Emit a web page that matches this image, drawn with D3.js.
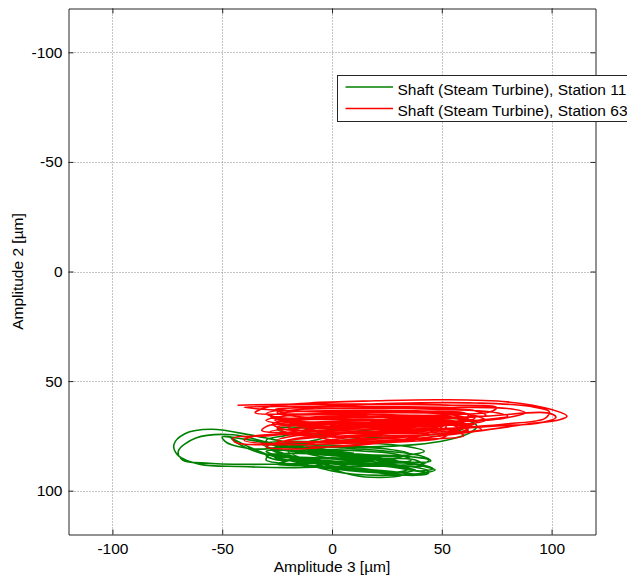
<!DOCTYPE html>
<html><head><meta charset="utf-8">
<script src="https://cdnjs.cloudflare.com/ajax/libs/d3/7.8.5/d3.min.js"></script>
<style>
html,body{margin:0;padding:0;background:#fff;overflow:hidden;}
svg{display:block;font-family:"Liberation Sans",Arial,Helvetica,sans-serif;}
</style></head>
<body>
<svg id="chart" width="627" height="576"></svg>
<script>
// ---- data (x = Amplitude 3, y = Amplitude 2, µm) ----
const seriesNames = ["Shaft (Steam Turbine), Station 11", "Shaft (Steam Turbine), Station 63"];
const seriesColors = ["#008000", "#ff0000"];
const xTicks = [-100, -50, 0, 50, 100];
const yTicks = [-100, -50, 0, 50, 100];
const xDomain = [-120, 120];
const yDomain = [-120, 120];
const xLabel = "Amplitude 3 [µm]";
const yLabel = "Amplitude 2 [µm]";

const greenOrbit = [
 [10,83],[-10,80],[-35,75],[-55,72],[-67,74],[-72,79],[-70,84],[-60,88],[-42,89],[-20,89.5],[5,89],[28,88.5],[42,87.5],[44,86],[36,84.5],[15,83.5],[-5,82],
 [-25,79],[-45,74.5],[-62,76],[-70,82],[-68,86],[-56,87.5],[-36,88],[-12,87.5],[12,87],[30,87],[42,89],[47,90.5],[42,92],[25,93],[10,92.5],[0,91],
 [-12,88],[-28,84],[-38,80],[-46,76],[-42,79],[-32,83],[-15,85.5],[5,87],[25,89],[38,91],[44,92],[38,93],[22,92],[8,90],
 [-8,87],[-22,83],[-30,80],[-24,78.5],[-5,79],[18,80],[38,79],[52,77],[63,73.5],[66,70.5],[60,67.5],[45,67.5],[28,69],[10,71],[-8,73],[-22,75],[-30,77],
 [-26,79.5],[-10,81],[8,83],[22,85],[30,86.5],[25,88],[12,87],[-2,85],[-15,82.5],[-28,80.5],[-32,78.5],[-20,77.5],[0,78],[20,78.5],[35,80],
 [42,82],[32,84],[15,84],[0,83],[-18,81.5],[-30,82],[-25,84],[-8,85],[10,86],[28,88],[35,90],[30,91.5],[18,90.5],[5,88.5],
 [-10,86.5],[-25,86],[-30,84],[-15,83],[5,84.5],[20,87],[32,89.5],[40,91],[46,90],[40,88],[28,87],[12,85],[-5,82],[-18,79.5],
 [-10,78],[5,77],[15,76],[25,75.5],[45,74.5],[58,72.5],[62,70],[52,69],[35,70.5],[15,72.5],[0,74],[-15,74.5],[-25,72],[-20,71],[-8,72.5],[-2,75],
 [-8,77],[-22,80],[-35,81],[-48,78],[-50,75.5],[-40,76.5],[-25,79],[-5,81],[15,82],[30,83.5],[36,86],[28,87.5],[15,86.5],[0,85.5],[-15,85],[-22,87],[-10,89],[10,90.5],[25,92],[32,93],[22,94],[10,93],
 [-20,82],[0,83.5],[20,85],[38,86],[42,88.5],[30,89],[10,88],[-10,86],[-28,83.5],[-30,86],[-15,88],[5,89.5],[25,91],[40,92.5],[44,91],[32,88.5],[15,87.5],[-5,86],[-20,84],[-28,81],
 [-15,79.5],[5,80.5],[25,82],[40,84],[45,86.5],[35,87],[20,85.5],[0,84],[-20,83],[-26,85],[-12,87],[8,88],[28,89],[38,90.5],[30,92],[15,91.5],[0,90],[-15,88.5],[-25,88],[-18,86],[0,85],[18,86],[30,85],[35,83],[25,81],[5,80],[-15,80.5]
];

const redOrbit = [
 [-43,61],[-15,60.5],[20,60.5],[55,61],[75,62],[72,64],[50,65.5],[20,66.5],[-10,67.5],[-27,69.5],[-22,72],[0,72.5],[30,71.5],[55,69.5],[62,67],[50,65],[20,64],[-10,64],[-30,63],
 [-40,62],[-20,61.5],[15,61.5],[50,62],[80,62.5],[88,64.5],[78,67],[50,69],[20,71],[-10,73],[-30,75],[-45,76],[-44,78],[-25,79],[5,78.5],[35,76.5],[65,73],[90,69.5],[104,67.5],[107,66],[100,63],[80,59.5],[50,58.5],[20,59],[-10,60],[-30,62],
 [-35,64.5],[-15,65],[15,64.5],[45,64.5],[62,65.5],[60,68],[40,70],[15,71],[-5,71],[-12,72.5],[-8,75],[-1,73.5],[-4,70.5],[-15,69.5],[-26,68],[-10,66.5],[20,66],[50,66.5],[66,68.5],[60,71],[40,73],[15,74.5],[-10,76],[-25,78],[-30,80],[-18,81],[5,79.5],[35,77],[55,74],
 [68,72],[60,70],[35,69],[10,69],[-8,69.5],[-20,71],[-10,73],[15,73],[45,72],[80,69.5],[97,67],[99,64],[90,61.5],[65,60],[35,60],[5,61],[-20,62.5],[-30,65],
 [-20,67],[5,67.5],[35,67.5],[56,68.5],[48,71],[25,72.5],[0,74.5],[-15,76],[-22,77.5],[-5,77.5],[20,76.5],[45,74.5],[58,72],[52,69],[30,67],[5,65.5],[-15,65.5],[-25,66.5],
 [-15,68.5],[10,68],[40,67],[70,66],[98,64.5],[102,66.5],[95,69],[75,70.5],[45,72.5],[15,75],[-5,77.5],[-12,79.5],[0,80],[20,78.5],[40,75],[50,71],[45,68.5],[25,68.5],[5,70],[-8,71],
 [-28,70],[-32,72.5],[-22,73.5],[-10,72],[0,71.5],[8,72.5],[4,74],[-3,73],[0,70],[15,69],[40,68.5],[58,70],[62,72.5],[50,74],[30,75.5],[5,77],[-15,78],[-30,78.5],[-40,77],[-35,75],[-15,74],[10,73.5],[35,73],[52,71],[48,68],[30,66.5],[10,66],[-12,66.5],[-25,64.5],[-15,63],[10,62.5],[40,62.5],[65,63.5],[70,65.5],[55,67],[30,68],[0,68.5],
 [-20,70],[10,70.5],[40,70],[60,69],[55,66.5],[30,65.5],[0,65],[-22,66],[-30,68],[-18,70],[5,71.5],[30,71],[55,70],[70,68],[62,65],[35,63.5],[5,63.5],[-18,64],[-28,66],[-20,68.5],[0,69],[25,69.5],[50,69],[60,71.5],[45,73.5],[20,74],[-5,74],[-20,75.5],[-25,77],[-10,78],[15,77.5],[40,76],[58,73.5],[63,70.5],[50,67.5],[25,66],[0,66.5],[-20,68],
 [-15,70],[10,71],[35,72],[55,72.5],[60,75],[40,76.5],[15,76],[-8,75],[-22,73],[-25,71],[-10,70],[20,69],[48,68.5],[65,67],[60,64.5],[35,64],[5,64.5],[-20,65],[-26,63],[-10,62],[20,62],[50,63],[72,64],[80,66],[65,68],[40,69.5],[10,70],[-15,71.5],[-28,73],[-20,74.5],[0,75],[25,75],[50,74],[62,72],[55,70],[30,70.5],[5,72],[-12,73.5],[-5,76],[15,78],[35,77.5],[50,76],[55,73]
];

// ---- drawing ----
const svg = d3.select("#chart");
const L = 68.5, R = 595.5, T = 8.5, B = 534.5;
const x = d3.scaleLinear().domain(xDomain).range([L, R]);
const y = d3.scaleLinear().domain(yDomain).range([T, B]);
const fs = "15.5px";
const fmt = d => String(d);

svg.append("defs").append("clipPath").attr("id","clip")
  .append("rect").attr("x",L).attr("y",T).attr("width",R-L).attr("height",B-T);

// grid
const grid = svg.append("g").attr("stroke","#8a8a8a").attr("stroke-width",1).attr("stroke-dasharray","1,2");
grid.selectAll(".gx").data(xTicks).join("line")
  .attr("x1",d=>Math.round(x(d))+0.5).attr("x2",d=>Math.round(x(d))+0.5).attr("y1",T).attr("y2",B);
grid.selectAll(".gy").data(yTicks).join("line")
  .attr("y1",d=>Math.round(y(d))+0.5).attr("y2",d=>Math.round(y(d))+0.5).attr("x1",L).attr("x2",R);

// data lines
const line = d3.line().x(d=>x(d[0])).y(d=>y(d[1])).curve(d3.curveCatmullRom.alpha(0.5));
const plotG = svg.append("g").attr("clip-path","url(#clip)");
[greenOrbit, redOrbit].forEach((arr,i)=>{
  plotG.append("path").attr("d", line(arr)).attr("fill","none")
    .attr("stroke", seriesColors[i]).attr("stroke-width",1.6).attr("stroke-linejoin","round");
});

// axes (ticks pointing inward, box on)
function styleAxis(g){
  g.selectAll(".domain").attr("stroke","#262626");
  g.selectAll(".tick line").attr("stroke","#262626");
  g.selectAll("text").attr("fill","#000").style("font-size",fs).style("font-family","'Liberation Sans',Arial,sans-serif");
}
svg.append("g").attr("transform",`translate(0,${B})`)
  .call(d3.axisBottom(x).tickValues(xTicks).tickSizeInner(-5).tickSizeOuter(0).tickPadding(8).tickFormat(fmt))
  .call(styleAxis);
svg.append("g").attr("transform",`translate(0,${T})`)
  .call(d3.axisTop(x).tickValues(xTicks).tickSizeInner(-5).tickSizeOuter(0).tickFormat(""))
  .call(styleAxis);
svg.append("g").attr("transform",`translate(${L},0)`)
  .call(d3.axisLeft(y).tickValues(yTicks).tickSizeInner(-5).tickSizeOuter(0).tickPadding(6).tickFormat(fmt))
  .call(styleAxis);
svg.append("g").attr("transform",`translate(${R},0)`)
  .call(d3.axisRight(y).tickValues(yTicks).tickSizeInner(-5).tickSizeOuter(0).tickFormat(""))
  .call(styleAxis);

// axis titles
svg.append("text").attr("x",(L+R)/2).attr("y",572).attr("text-anchor","middle")
  .style("font-size",fs).text(xLabel);
svg.append("text").attr("transform",`translate(23,${(T+B)/2}) rotate(-90)`).attr("text-anchor","middle")
  .style("font-size",fs).text(yLabel);

// legend
const lg = svg.append("g");
lg.append("rect").attr("x",337.5).attr("y",75.5).attr("width",320).attr("height",46)
  .attr("fill","#fff").attr("stroke","#262626").attr("stroke-width",1);
seriesNames.forEach((name,i)=>{
  const ly = [87, 108.5][i];
  lg.append("line").attr("x1",345.5).attr("x2",393).attr("y1",ly).attr("y2",ly)
    .attr("stroke",seriesColors[i]).attr("stroke-width",1.4);
  lg.append("text").attr("x",397.5).attr("y",ly+7.5).style("font-size",fs).text(name);
});
</script>
</body></html>
